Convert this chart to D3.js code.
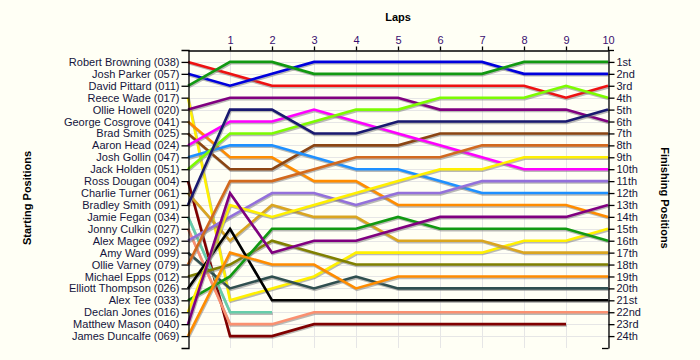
<!DOCTYPE html>
<html>
<head>
<meta charset="utf-8">
<script src="https://cdn.jsdelivr.net/npm/d3@7/dist/d3.min.js"></script>
<style>
  html, body { margin: 0; padding: 0; background: #fffff5; }
  svg { display: block; }
  text { font-family: "Liberation Sans", Arial, sans-serif; }
</style>
</head>
<body>
<svg id="chart" width="700" height="360"></svg>
<script>
// ---- data ----
const lapTicks = [1, 2, 3, 4, 5, 6, 7, 8, 9, 10];
const drivers = [
  "Robert Browning (038)", "Josh Parker (057)", "David Pittard (011)", "Reece Wade (017)",
  "Ollie Howell (020)", "George Cosgrove (041)", "Brad Smith (025)", "Aaron Head (024)",
  "Josh Gollin (047)", "Jack Holden (051)", "Ross Dougan (004)", "Charlie Turner (061)",
  "Bradley Smith (091)", "Jamie Fegan (034)", "Jonny Culkin (027)", "Alex Magee (092)",
  "Amy Ward (099)", "Ollie Varney (079)", "Michael Epps (012)", "Elliott Thompson (026)",
  "Alex Tee (033)", "Declan Jones (016)", "Matthew Mason (040)", "James Duncalfe (069)"
];
const finishLabels = [
  "1st", "2nd", "3rd", "4th", "5th", "6th", "7th", "8th", "9th", "10th", "11th", "12th",
  "13th", "14th", "15th", "16th", "17th", "18th", "19th", "20th", "21st", "22nd", "23rd", "24th"
];
// position of each driver at lap 0..10 (null = retired)
const racePositions = [
  [1, 2, 3, 3, 3, 3, 3, 3, 3, 4, 3],
  [2, 3, 2, 1, 1, 1, 1, 1, 2, 2, 2],
  [3, 1, 1, 2, 2, 2, 2, 2, 1, 1, 1],
  [4, 21, 20, 19, 17, 17, 17, 17, 16, 16, 15],
  [5, 4, 4, 4, 4, 4, 5, 5, 5, 5, 6],
  [6, 9, 9, 11, 11, 13, 13, 13, 13, 13, 14],
  [7, 10, 10, 8, 8, 8, 7, 7, 7, 7, 7],
  [8, 6, 6, 5, 6, 7, 8, 9, 10, 10, 10],
  [9, 8, 8, 9, 10, 10, 11, 12, 12, 12, 12],
  [10, 7, 7, 6, 5, 5, 4, 4, 4, 3, 4],
  [11, 24, 24, 23, 23, 23, 23, 23, 23, 23, null],
  [12, 16, 13, 14, 14, 16, 16, 16, 17, 17, 17],
  [13, 5, 5, 7, 7, 6, 6, 6, 6, 6, 5],
  [14, 22, 22, null, null, null, null, null, null, null, null],
  [15, 23, 23, 22, 22, 22, 22, 22, 22, 22, 22],
  [16, 14, 12, 12, 13, 12, 12, 11, 11, 11, 11],
  [17, 20, 19, 20, 19, 20, 20, 20, 20, 20, 20],
  [18, 11, 11, 10, 9, 9, 9, 8, 8, 8, 8],
  [19, 18, 16, 17, 18, 18, 18, 18, 18, 18, 18],
  [20, 15, 21, 21, 21, 21, 21, 21, 21, 21, 21],
  [21, 19, 15, 15, 15, 14, 15, 15, 15, 15, 16],
  [22, 13, 14, 13, 12, 11, 10, 10, 9, 9, 9],
  [23, 12, 17, 16, 16, 15, 14, 14, 14, 14, 13],
  [24, 17, 18, 18, 20, 19, 19, 19, 19, 19, 19]
];
const driverColors = [
  "#ee1111", "#0000dd", "#119911", "#fff000", "#800080", "#ff8c00", "#8b4513", "#ff00ff",
  "#1e90ff", "#7cfc00", "#800000", "#daa520", "#191970", "#66cdaa", "#fa9070", "#9370db",
  "#2f4f4f", "#d2691e", "#808000", "#000000", "#119911", "#fff000", "#800080", "#ff8c00"
];

// ---- layout ----
const svg = d3.select("#chart");
const mLeft = 188, mRight = 608, mTop = 50, mBottom = 348;
const x = d3.scaleLinear().domain([0, 10]).range([mLeft, mRight]);
const y = d3.scaleLinear().domain([0, 25]).range([mTop, mBottom]);
const rows = d3.range(1, 25);

svg.append("rect").attr("width", 700).attr("height", 360).attr("fill", "#fffff5");

// grid
const grid = svg.append("g").attr("stroke", "#e6e6e6").attr("stroke-width", 1);
grid.selectAll("line.h").data(rows).join("line").attr("class", "h")
  .attr("x1", mLeft).attr("x2", mRight)
  .attr("y1", d => Math.round(y(d)) + 0.5).attr("y2", d => Math.round(y(d)) + 0.5);
grid.selectAll("line.v").data(lapTicks).join("line").attr("class", "v")
  .attr("x1", d => Math.round(x(d)) + 0.5).attr("x2", d => Math.round(x(d)) + 0.5)
  .attr("y1", mTop).attr("y2", mBottom);

// lines
const line = d3.line()
  .defined(d => d != null)
  .x((d, i) => x(i))
  .y(d => y(d));

const lines = svg.append("g").attr("fill", "none").attr("stroke-linejoin", "miter");
racePositions.forEach((pos, i) => {
  lines.append("path")
    .attr("d", line(pos))
    .attr("transform", "translate(0.8,1.4)")
    .attr("stroke", "#808080")
    .attr("stroke-opacity", 0.55)
    .attr("stroke-width", 2.6);
  lines.append("path")
    .attr("d", line(pos))
    .attr("stroke", driverColors[i])
    .attr("stroke-width", 2.6);
});

// axes
const fontSize = "11px";
const leftAxis = svg.append("g")
  .attr("transform", `translate(${mLeft + 0.5},0)`)
  .call(d3.axisLeft(y).tickValues(rows).tickFormat(d => drivers[d - 1]).tickSize(7).tickSizeOuter(7).tickPadding(2));
const rightAxis = svg.append("g")
  .attr("transform", `translate(${mRight + 0.5},0)`)
  .call(d3.axisRight(y).tickValues(rows).tickFormat(d => finishLabels[d - 1]).tickSize(6).tickSizeOuter(0).tickPadding(2));
const topAxis = svg.append("g")
  .attr("transform", `translate(0,${mTop + 0.5})`)
  .call(d3.axisTop(x).tickValues(lapTicks).tickFormat(d3.format("d")).tickSize(4).tickSizeOuter(0).tickPadding(3));

[leftAxis, rightAxis, topAxis].forEach(g => {
  g.selectAll("text").attr("font-size", fontSize).attr("font-family", "'Liberation Sans', Arial, sans-serif");
  g.selectAll("path, line").attr("stroke", "#000").attr("stroke-width", 1.3);
});
leftAxis.selectAll("text").attr("fill", "#14143c");
rightAxis.selectAll("text").attr("fill", "#14143c");
topAxis.selectAll("text").attr("fill", "#3a1070");

// small end ticks
svg.append("line").attr("x1", mRight).attr("x2", mRight + 6).attr("y1", mTop + 0.5).attr("y2", mTop + 0.5)
  .attr("stroke", "#000").attr("stroke-width", 1.3);
svg.append("line").attr("x1", mRight - 6).attr("x2", mRight + 0.5).attr("y1", mBottom + 0.5).attr("y2", mBottom + 0.5)
  .attr("stroke", "#000").attr("stroke-width", 1.3);

// titles
svg.append("text").attr("x", (mLeft + mRight) / 2).attr("y", 21)
  .attr("text-anchor", "middle").attr("font-weight", "bold").attr("font-size", "11px").attr("fill", "#000")
  .text("Laps");
svg.append("text").attr("transform", "translate(31,198) rotate(-90)")
  .attr("text-anchor", "middle").attr("font-weight", "bold").attr("font-size", "11px").attr("fill", "#000")
  .text("Starting Positions");
svg.append("text").attr("transform", "translate(661,198) rotate(90)")
  .attr("text-anchor", "middle").attr("font-weight", "bold").attr("font-size", "11px").attr("fill", "#000")
  .text("Finishing Positions");
</script>
</body>
</html>
